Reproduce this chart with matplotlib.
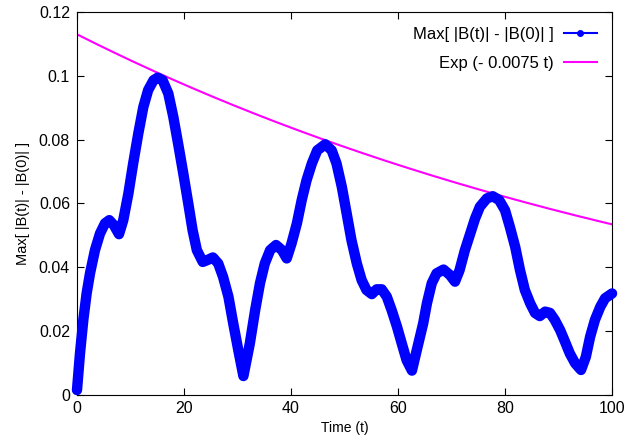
import numpy as np
import matplotlib.pyplot as plt
from matplotlib.lines import Line2D
from matplotlib.ticker import FormatStrFormatter

# values
t = [0.0, 0.56, 1.18, 1.8, 2.43, 3.36, 4.3, 5.23, 6.04, 6.9, 7.85, 8.65, 9.6,
     10.5, 11.46, 12.4, 13.3, 14.3, 15.08, 16.0, 17.07, 18.0, 18.9, 19.87,
     20.8, 21.6, 22.4, 23.5, 24.4, 25.4, 26.4, 27.3, 28.3, 29.2, 30.15, 31.1,
     32.3, 33.3, 34.2, 35.1, 36.1, 37.2, 38.3, 39.2, 40.1, 41.1, 42.0, 42.9,
     43.9, 44.9, 46.4, 47.6, 48.5, 49.5, 50.4, 51.3, 52.3, 53.2, 54.1, 55.1,
     56.0, 56.95, 57.9, 58.8, 59.8, 60.7, 61.6, 62.6, 63.5, 64.7, 65.4, 66.3,
     67.2, 68.5, 69.7, 70.65, 71.5, 72.5, 73.5, 74.4, 75.3, 76.6, 77.7, 78.9,
     80.0, 80.9, 81.9, 82.8, 83.7, 84.7, 85.6, 86.5, 87.5, 88.4, 89.3, 90.3,
     91.2, 92.1, 93.1, 94.2, 95.1, 95.9, 96.8, 97.8, 98.7, 100.0]
bmax = [0.0014, 0.0129, 0.0234, 0.0317, 0.038, 0.0453, 0.0505, 0.0537, 0.0547,
        0.0531, 0.0503, 0.0547, 0.063, 0.0725, 0.0819, 0.0902, 0.0955, 0.0986,
        0.0994, 0.0986, 0.0944, 0.0871, 0.0787, 0.0693, 0.0599, 0.0516, 0.0453,
        0.0416, 0.0422, 0.043, 0.0411, 0.0369, 0.0307, 0.0223, 0.0139, 0.0058,
        0.016, 0.0265, 0.0349, 0.0411, 0.0453, 0.0469, 0.0453, 0.0427, 0.0474,
        0.0537, 0.061, 0.0672, 0.0725, 0.0766, 0.0785, 0.0766, 0.0725, 0.0651,
        0.0568, 0.0484, 0.0411, 0.0359, 0.0328, 0.0315, 0.033, 0.033, 0.0307,
        0.0265, 0.0213, 0.016, 0.0108, 0.0075, 0.0139, 0.0223, 0.0286, 0.0349,
        0.038, 0.0392, 0.0375, 0.0354, 0.039, 0.0453, 0.0505, 0.0552, 0.0589,
        0.0615, 0.0622, 0.061, 0.0578, 0.0526, 0.0463, 0.039, 0.0328, 0.0286,
        0.0256, 0.0246, 0.026, 0.0256, 0.0234, 0.0202, 0.0166, 0.0129, 0.0098,
        0.0077, 0.0118, 0.0181, 0.0234, 0.0275, 0.0302, 0.0317]

# fitted envelope shown in the legend: A * exp(-0.0075 t)
amp = 0.113
rate = 0.0075
tf = np.linspace(0, 100, 200)

plt.rcParams['font.family'] = ['Liberation Sans', 'DejaVu Sans']

fig = plt.figure(figsize=(6.28, 4.41), dpi=100)
ax = fig.add_axes([0.1226, 0.1054, 0.852, 0.8674])

ax.plot(t, bmax, color='#0000ff', lw=7.5, solid_capstyle='round',
        solid_joinstyle='round', clip_on=False, zorder=3)
ax.plot(tf, amp * np.exp(-rate * tf), color='#ff00ff', lw=1.5, zorder=2)

ax.set_xlim(0, 100)
ax.set_ylim(0, 0.12)
ax.set_xticks([0, 20, 40, 60, 80, 100])
ax.set_yticks([0, 0.02, 0.04, 0.06, 0.08, 0.1, 0.12])
ax.yaxis.set_major_formatter(FormatStrFormatter('%g'))
ax.tick_params(direction='in', top=True, right=True, length=5, labelsize=11.5, pad=5)
ax.set_xlabel('Time (t)', fontsize=10, labelpad=3)
ax.set_ylabel('Max[ |B(t)| - |B(0)| ]', fontsize=10.5, labelpad=6)

handles = [Line2D([], [], color='#0000ff', lw=1.5, marker='o', ms=4),
           Line2D([], [], color='#ff00ff', lw=1.5)]
ax.legend(handles, ['Max[ |B(t)| - |B(0)| ]', 'Exp (- 0.0075 t)'],
          loc='upper right', frameon=False, markerfirst=False, fontsize=12,
          handlelength=2.0, handletextpad=0.6, labelspacing=0.85,
          borderaxespad=0.5)

fig.savefig('out.png', dpi=100)
